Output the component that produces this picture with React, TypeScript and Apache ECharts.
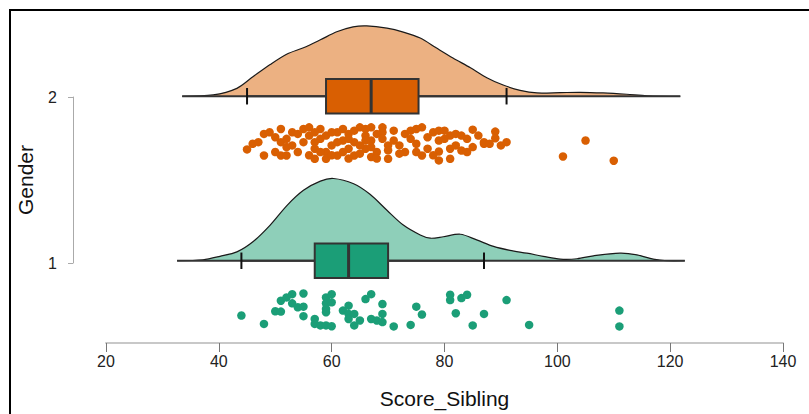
import React, { useEffect, useRef } from "react";
import * as echarts from "echarts";

// Groups (Gender) and colours
const groups = [1, 2];
const pointColors = ["#1B9E77", "#D95F02"];
const densityFills = ["#8ECFB9", "#ECB182"];

// Density curves (score, height above the group baseline in axis units)
const densityX1 = [32.6, 37.2, 40.2, 43.2, 46.1, 49.1, 52.1, 55.0, 58.0, 60.3, 63.9, 66.8, 69.8, 72.7, 75.7, 77.5, 79.8, 82.8, 85.7, 88.7, 91.6, 94.6, 97.5, 100.5, 103.5, 106.4, 111.1, 114.1, 117.0, 119.4, 122.6];
const densityH1 = [0, 0.006, 0.027, 0.054, 0.117, 0.217, 0.337, 0.428, 0.484, 0.5, 0.468, 0.404, 0.307, 0.217, 0.157, 0.137, 0.146, 0.161, 0.127, 0.087, 0.063, 0.046, 0.027, 0.01, 0.012, 0.03, 0.046, 0.036, 0.01, 0, 0];
const densityX2 = [33.5, 39.0, 43.2, 46.1, 49.1, 52.1, 55.0, 58.0, 60.9, 63.8, 66.2, 69.8, 72.7, 75.7, 78.6, 81.5, 84.6, 87.5, 90.4, 93.4, 96.4, 100.5, 104.0, 108.1, 112.3, 115.9, 121.8];
const densityH2 = [0, 0.008, 0.048, 0.12, 0.193, 0.257, 0.295, 0.343, 0.392, 0.422, 0.428, 0.414, 0.39, 0.354, 0.293, 0.233, 0.173, 0.113, 0.068, 0.036, 0.02, 0.022, 0.024, 0.02, 0.012, 0.003, 0];

// Box plot stats: [whisker low, Q1, median, Q3, whisker high]
const boxStats1 = [44, 57, 63, 70, 87];
const boxStats2 = [45, 59, 67, 75.4, 91];

// Jittered raw points: [score, jittered y]
const points1 = [
  [44, 0.667], [48, 0.616], [50, 0.693], [51, 0.691], [51, 0.757], [52, 0.777], [53, 0.797], [53, 0.741],
  [54, 0.717], [55, 0.801], [55, 0.721], [55, 0.663], [57, 0.646], [57, 0.616], [58, 0.607], [59, 0.707],
  [59, 0.687], [59, 0.777], [59, 0.741], [60, 0.797], [60, 0.747], [59, 0.607], [60, 0.602], [62, 0.697],
  [63, 0.727], [63, 0.677], [63, 0.646], [64, 0.677], [64, 0.607], [65, 0.637], [66, 0.767], [67, 0.797],
  [67, 0.646], [68, 0.637], [69, 0.737], [69, 0.677], [69, 0.627], [71, 0.601], [74, 0.61], [75, 0.721],
  [76, 0.673], [81, 0.793], [81, 0.761], [83, 0.773], [84, 0.793], [82, 0.681], [85, 0.607], [87, 0.677],
  [91, 0.761], [95, 0.61], [111, 0.697], [111, 0.601],
];
const points2 = [
  [45, 1.677], [46, 1.711], [47, 1.721], [48, 1.771], [48, 1.64], [49, 1.781], [51, 1.801], [51, 1.721],
  [51, 1.64], [52, 1.691], [52, 1.741], [53, 1.781], [52, 1.64], [55, 1.801], [56, 1.811], [56, 1.761],
  [55, 1.721], [57, 1.721], [57, 1.681], [57, 1.62], [58, 1.801], [59, 1.761], [59, 1.661], [59, 1.62],
  [60, 1.701], [61, 1.781], [61, 1.64], [62, 1.801], [62, 1.731], [63, 1.681], [63, 1.771], [64, 1.64],
  [64, 1.721], [65, 1.811], [66, 1.681], [66, 1.761], [67, 1.631], [67, 1.811], [67, 1.731], [68, 1.661],
  [69, 1.781], [69, 1.811], [70, 1.701], [70, 1.62],
  [73, 1.771], [73, 1.661], [74, 1.791], [75, 1.661], [76, 1.64], [76, 1.811], [77, 1.751], [78, 1.781],
  [79, 1.731], [79, 1.791], [79, 1.664], [79, 1.61], [81, 1.761], [81, 1.681], [81, 1.62], [82, 1.771],
  [83, 1.761], [83, 1.67], [84, 1.661], [85, 1.797], [85, 1.691], [87, 1.711], [87, 1.721], [89, 1.785],
  [89, 1.745], [90, 1.701], [91, 1.721], [101, 1.634], [105, 1.731], [110, 1.608],
  [50, 1.751], [50, 1.661], [53, 1.701], [54, 1.661], [54, 1.771], [56, 1.641], [57, 1.781], [58, 1.741],
  [58, 1.661], [60, 1.781], [60, 1.641], [61, 1.721], [62, 1.661], [63, 1.741], [63, 1.621], [64, 1.791],
  [65, 1.701], [65, 1.651], [66, 1.731], [66, 1.801], [67, 1.691], [68, 1.771], [68, 1.621], [69, 1.741],
  [70, 1.671], [71, 1.791], [71, 1.731], [72, 1.651], [72, 1.701], [74, 1.741], [75, 1.801], [75, 1.711],
  [77, 1.681], [78, 1.641], [80, 1.741], [80, 1.791], [82, 1.701], [84, 1.741], [86, 1.761], [88, 1.711],
];

// Axis ticks
const xTicks = [20, 40, 60, 80, 100, 120, 140];
const yTicks = ["1", "2"];

const densityXs = [densityX1, densityX2];
const densityHs = [densityH1, densityH2];
const boxStats = [boxStats1, boxStats2];

export default function App() {
  const ref = useRef<HTMLDivElement>(null);

  useEffect(() => {
    if (!ref.current) return;
    const chart = echarts.init(ref.current, null, { renderer: "svg" });
    const font = "Liberation Sans, Arial, sans-serif";
    const boxHalf = 0.105;
    const capHalf = 0.05;

    const option: any = {
      animation: false,
      backgroundColor: "#ffffff",
      textStyle: { fontFamily: font },
      graphic: [
        {
          type: "rect",
          shape: { x: 10, y: 10, width: 900, height: 500 },
          style: { fill: "transparent", stroke: "#000", lineWidth: 2 },
          silent: true,
        },
      ],
      grid: [
        { left: 106, right: 26, top: 14, bottom: 68 },
        { left: 106, right: 26, top: 97, bottom: 151 },
      ],
      xAxis: [
        {
          type: "value",
          gridIndex: 0,
          min: xTicks[0],
          max: xTicks[xTicks.length - 1],
          interval: xTicks[1] - xTicks[0],
          axisLine: { show: true, lineStyle: { color: "#c8c8c8", width: 2 } },
          axisTick: { show: true, length: 9, lineStyle: { color: "#777", width: 1 } },
          axisLabel: { fontSize: 16, color: "#222", margin: 10, fontFamily: font },
          splitLine: { show: false },
          name: "Score_Sibling",
          nameLocation: "middle",
          nameGap: 45,
          nameTextStyle: { fontSize: 21, color: "#111", fontFamily: font },
        },
        { type: "value", gridIndex: 1, show: false, min: 20, max: 140 },
      ],
      yAxis: [
        { type: "value", gridIndex: 0, show: false, min: 0.5, max: 2.5 },
        {
          type: "value",
          gridIndex: 1,
          min: Number(yTicks[0]),
          max: Number(yTicks[yTicks.length - 1]),
          interval: 1,
          offset: 33,
          axisLine: { show: true, lineStyle: { color: "#aaa", width: 1 } },
          axisTick: { show: true, length: 5, lineStyle: { color: "#aaa", width: 1 } },
          axisLabel: { fontSize: 16, color: "#222", margin: 16, fontFamily: font },
          splitLine: { show: false },
          name: "Gender",
          nameLocation: "middle",
          nameGap: 37,
          nameTextStyle: { fontSize: 21, color: "#111", fontFamily: font },
        },
      ],
      series: [
        {
          type: "custom",
          name: "density",
          xAxisIndex: 0,
          yAxisIndex: 0,
          z: 1,
          silent: true,
          data: groups.map((g, i) => [densityXs[i][0], g]),
          renderItem: (params: any, api: any) => {
            const i = params.dataIndex;
            const g = groups[i];
            const xs = densityXs[i];
            const hs = densityHs[i];
            const pts = xs.map((x, k) => api.coord([x, g + hs[k]]));
            const b0 = api.coord([xs[0], g]);
            const b1 = api.coord([xs[xs.length - 1], g]);
            return {
              type: "group",
              children: [
                { type: "polygon", shape: { points: pts, smooth: 0.3 }, style: { fill: densityFills[i] } },
                { type: "polyline", shape: { points: pts, smooth: 0.3 }, style: { fill: null, stroke: "#1a1a1a", lineWidth: 1.2 } },
                { type: "line", shape: { x1: b0[0], y1: b0[1], x2: b1[0], y2: b1[1] }, style: { stroke: "#333", lineWidth: 2 } },
              ],
            };
          },
        },
        {
          type: "custom",
          name: "box",
          xAxisIndex: 0,
          yAxisIndex: 0,
          z: 2,
          silent: true,
          data: groups.map((g, i) => [boxStats[i][2], g]),
          renderItem: (params: any, api: any) => {
            const i = params.dataIndex;
            const g = groups[i];
            const [lo, q1, med, q3, hi] = boxStats[i];
            const pLo = api.coord([lo, g]);
            const pHi = api.coord([hi, g]);
            const loTop = api.coord([lo, g + capHalf]);
            const loBot = api.coord([lo, g - capHalf]);
            const hiTop = api.coord([hi, g + capHalf]);
            const hiBot = api.coord([hi, g - capHalf]);
            const bTL = api.coord([q1, g + boxHalf]);
            const bBR = api.coord([q3, g - boxHalf]);
            const mT = api.coord([med, g + boxHalf]);
            const mB = api.coord([med, g - boxHalf]);
            return {
              type: "group",
              children: [
                { type: "line", shape: { x1: pLo[0], y1: pLo[1], x2: pHi[0], y2: pHi[1] }, style: { stroke: "#333", lineWidth: 2 } },
                { type: "line", shape: { x1: loTop[0], y1: loTop[1], x2: loBot[0], y2: loBot[1] }, style: { stroke: "#111", lineWidth: 2 } },
                { type: "line", shape: { x1: hiTop[0], y1: hiTop[1], x2: hiBot[0], y2: hiBot[1] }, style: { stroke: "#111", lineWidth: 2 } },
                {
                  type: "rect",
                  shape: { x: bTL[0], y: bTL[1], width: bBR[0] - bTL[0], height: bBR[1] - bTL[1] },
                  style: { fill: pointColors[i], stroke: "#333", lineWidth: 2 },
                },
                { type: "line", shape: { x1: mT[0], y1: mT[1], x2: mB[0], y2: mB[1] }, style: { stroke: "#333", lineWidth: 3 } },
              ],
            };
          },
        },
        {
          type: "scatter",
          name: "1",
          xAxisIndex: 0,
          yAxisIndex: 0,
          z: 3,
          symbolSize: 8.5,
          itemStyle: { color: pointColors[0], opacity: 1 },
          data: points1,
        },
        {
          type: "scatter",
          name: "2",
          xAxisIndex: 0,
          yAxisIndex: 0,
          z: 3,
          symbolSize: 8.5,
          itemStyle: { color: pointColors[1], opacity: 1 },
          data: points2,
        },
      ],
    };

    chart.setOption(option);
    return () => chart.dispose();
  }, []);

  return (
    <div
      ref={ref}
      style={{ position: "fixed", left: 0, top: 0, width: 809, height: 414, background: "#fff" }}
    />
  );
}
